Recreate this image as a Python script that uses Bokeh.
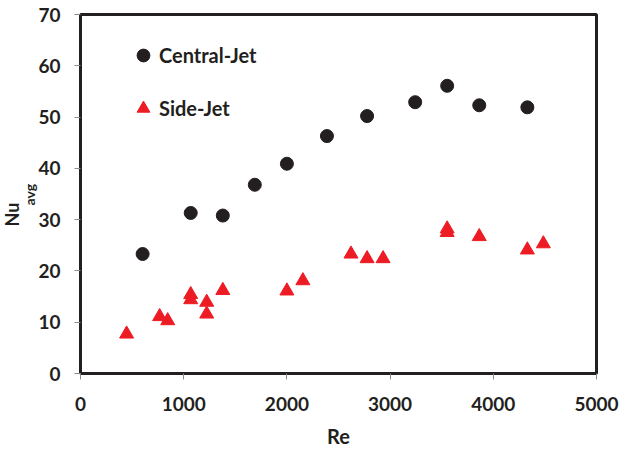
import math
from bokeh.plotting import figure
from bokeh.models import Range1d, FixedTicker, Legend, LegendItem, Title
from bokeh.embed import file_html
from bokeh.resources import INLINE

# Data
central_re = [602, 1068, 1379, 1689, 2000, 2388, 2777, 3243, 3553, 3864, 4330]
central_nu = [23.3, 31.3, 30.8, 36.8, 40.9, 46.3, 50.2, 52.9, 56.1, 52.3, 51.9]

side_re = [447, 767, 845, 1068, 1068, 1223, 1223, 1379, 2000, 2155, 2621, 2777, 2932, 3553, 3553, 3864, 4330, 4485]
side_nu = [7.7, 11.1, 10.3, 15.4, 14.4, 13.9, 11.6, 16.2, 16.1, 18.1, 23.3, 22.4, 22.4, 28.2, 27.5, 26.7, 24.1, 25.3]

x_ticks = [0, 1000, 2000, 3000, 4000, 5000]
y_ticks = [0, 10, 20, 30, 40, 50, 60, 70]

FONT = "Lato"
TXT = "#231f20"

p = figure(width=620, height=450, output_backend="svg", toolbar_location=None,
           x_range=Range1d(0, 5000), y_range=Range1d(0, 70),
           min_border_left=0, min_border_right=24, min_border_top=14, min_border_bottom=76)
p.background_fill_color = "white"
p.border_fill_color = "white"
p.grid.visible = False
p.outline_line_color = "#231f20"
p.outline_line_width = 3

for ax in (p.xaxis[0], p.yaxis[0]):
    ax.axis_line_color = None
    ax.major_tick_line_color = "#8c8c8c"
    ax.major_tick_line_width = 1
    ax.major_tick_out = 6
    ax.major_tick_in = 0
    ax.minor_tick_line_color = None
    ax.major_label_text_font = FONT
    ax.major_label_text_font_style = "bold"
    ax.major_label_text_font_size = "19px"
    ax.major_label_text_color = TXT

p.xaxis.ticker = FixedTicker(ticks=x_ticks)
p.yaxis.ticker = FixedTicker(ticks=y_ticks)
p.xaxis.major_label_standoff = 17
p.yaxis.major_label_standoff = 14
p.yaxis.axis_label_standoff = 0

p.xaxis.axis_label = "Re"
p.xaxis.axis_label_text_font = FONT
p.xaxis.axis_label_text_font_style = "bold"
p.xaxis.axis_label_text_font_size = "20px"
p.xaxis.axis_label_text_color = TXT
p.xaxis.axis_label_standoff = 10

r1 = p.scatter(central_re, central_nu, marker="circle", size=13,
               fill_color="#231f20", line_color="#231f20")
r2 = p.scatter(side_re, side_nu, marker="triangle", size=14,
               fill_color="#ed1c24", line_color="#ed1c24")

legend = Legend(items=[LegendItem(label="Central-Jet", renderers=[r1]),
                       LegendItem(label="Side-Jet", renderers=[r2])],
                location=(47, 249), padding=0, margin=0, spacing=21,
                glyph_width=32, glyph_height=32, label_height=32,
                label_standoff=0,
                border_line_color=None, background_fill_alpha=0)
legend.label_text_font = FONT
legend.label_text_font_style = "bold"
legend.label_text_font_size = "20px"
legend.label_text_color = TXT
p.add_layout(legend)

t_avg = Title(text="avg", align="left", offset=168, standoff=-4,
              text_font=FONT, text_font_style="bold", text_font_size="14px",
              text_color=TXT)
t_nu = Title(text="Nu", align="left", offset=147, standoff=-4,
             text_font=FONT, text_font_style="bold", text_font_size="18px",
             text_color=TXT)
p.add_layout(t_avg, "left")
p.add_layout(t_nu, "left")

open("out.html", "w").write(file_html(p, INLINE))
